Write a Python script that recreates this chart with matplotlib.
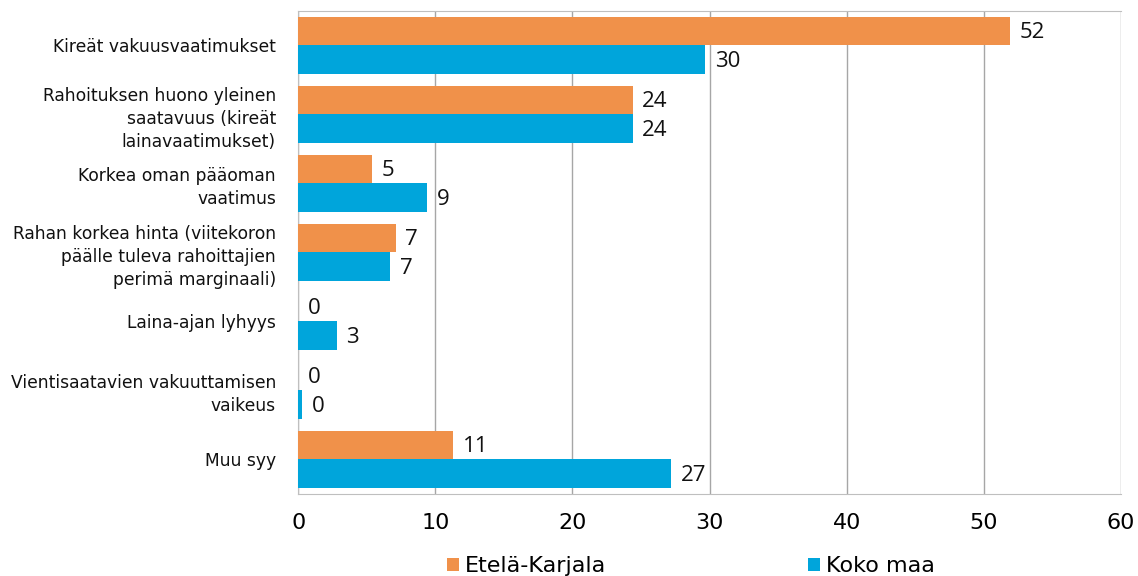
import matplotlib.pyplot as plt
import numpy as np

# data
kategoriat = [
    'Kireät vakuusvaatimukset',
    'Rahoituksen huono yleinen\nsaatavuus (kireät\nlainavaatimukset)',
    'Korkea oman pääoman\nvaatimus',
    'Rahan korkea hinta (viitekoron\npäälle tuleva rahoittajien\nperimä marginaali)',
    'Laina-ajan lyhyys',
    'Vientisaatavien vakuuttamisen\nvaikeus',
    'Muu syy',
]
etela_karjala = [51.9, 24.4, 5.4, 7.1, 0.0, 0.0, 11.3]
koko_maa = [29.7, 24.4, 9.4, 6.7, 2.8, 0.3, 27.2]

c_orange = '#F0914A'
c_blue = '#00A5DB'

fig = plt.figure(figsize=(11.38, 5.76), dpi=100)
ax = fig.add_axes([0.262, 0.1424, 0.723, 0.8385])

y = np.arange(len(kategoriat))
h = 0.41
b1 = ax.barh(y - h / 2, etela_karjala, height=h, color=c_orange, linewidth=0,
             label='Etelä-Karjala', zorder=3)
b2 = ax.barh(y + h / 2, koko_maa, height=h, color=c_blue, linewidth=0,
             label='Koko maa', zorder=3)

for bars, vals in [(b1, etela_karjala), (b2, koko_maa)]:
    for bar, v in zip(bars, vals):
        ax.text(bar.get_width() + 0.7, bar.get_y() + bar.get_height() / 2 + 0.02, f'{round(v):d}',
                va='center', ha='left', fontsize=16, family='Open Sans', color='#111111')

ax.set_ylim(len(kategoriat) - 0.5, -0.5)
ax.set_xlim(0, 60)
ax.set_xticks(range(0, 61, 10))
ax.set_yticks(y)
ax.set_yticklabels(kategoriat, fontsize=12.3, family='DejaVu Sans', color='#111111', linespacing=1.35)
for lbl in ax.get_xticklabels():
    lbl.set_fontfamily('DejaVu Sans')
    lbl.set_fontsize(16)
ax.tick_params(axis='y', length=0, pad=16)
ax.tick_params(axis='x', length=0, pad=14)

ax.grid(axis='x', color='#A6A6A6', linewidth=1, zorder=0)
ax.spines['right'].set_visible(False)
for s in ['left', 'bottom', 'top']:
    ax.spines[s].set_color('#BFBFBF')

leg = fig.legend(handles=[b1, b2], loc='lower center', bbox_to_anchor=(0.607, -0.035), ncol=2,
                 frameon=False, handlelength=0.55, handleheight=0.55, handletextpad=0.25,
                 columnspacing=9.1, prop={'family': 'DejaVu Sans', 'size': 16})

plt.savefig('out.png', dpi=100)
